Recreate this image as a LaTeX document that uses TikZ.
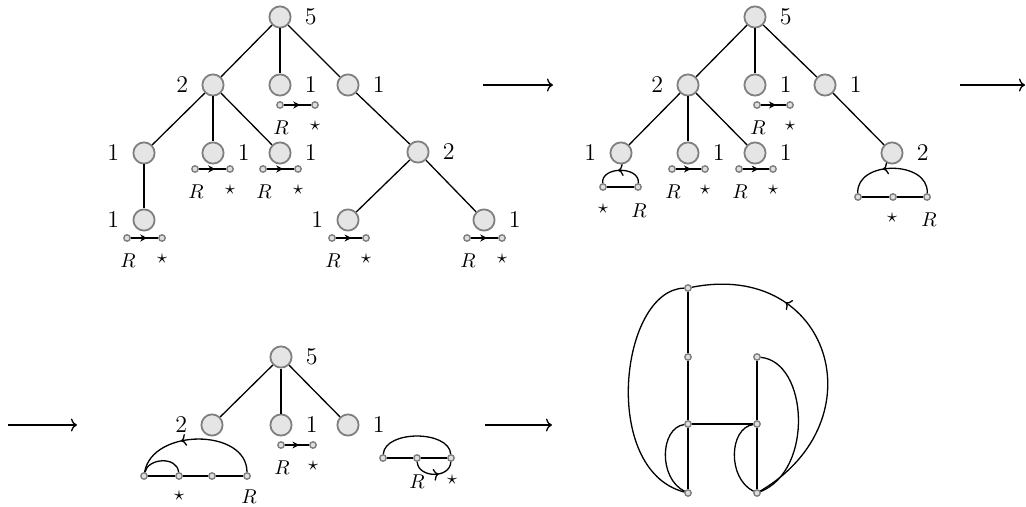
\documentclass[tikz,border=0pt]{standalone}
\usetikzlibrary{positioning,arrows.meta,calc,decorations.markings}

% R -> star pair hanging under a leaf
\newcommand{\rspair}[4]{%
  \node[dot] (#1l) at (#2,#4) {};
  \node[dot] (#1r) at (#3,#4) {};
  \draw[edge, midarr] (#1l) -- (#1r);
  \node[lab] (#1R) at ($(#1l)+(1,23)$) {$R$};
  \node[lab] (#1s) at ($(#1r)+(0,21)$) {$\star$};
}

\begin{document}
\begin{tikzpicture}[
  x=0.5pt, y=-0.5pt,
  vtx/.style={circle, draw=gray, fill=gray!20, line width=0.9pt,
    minimum size=10.6pt, inner sep=0pt},
  dot/.style={circle, draw=gray, fill=gray!25, line width=0.7pt,
    minimum size=3.2pt, inner sep=0pt},
  edge/.style={line width=0.65pt},
  lab/.style={inner sep=0pt},
  every label/.style={font=\large},
  label distance=3.1pt,
  midarr/.style={postaction={decorate}, decoration={markings,
    mark=at position #1 with {\arrow{Stealth[length=3.5pt,width=3.5pt]}}}},
  midarr/.default=0.6,
  midto/.style={postaction={decorate}, decoration={markings,
    mark=at position #1 with {\arrow{To[length=2.6pt,width=6pt]}}}},
  midto/.default=0.55,
  flow/.style={-{To[length=3pt,width=6.5pt]}, line width=0.65pt},
]
\useasboundingbox (0,0) rectangle (1026,507);

% ============================================================
% TOP LEFT: the tree
% ============================================================
\node[vtx, label=right:5] (aroot) at (280,17) {};
\node[vtx, label=left:2]  (a2)    at (213,85) {};
\node[vtx, label=right:1] (a1m)   at (280,85) {};
\node[vtx, label=right:1] (a1r)   at (348,85) {};
\node[vtx, label=left:1]  (al1)   at (144,153) {};
\node[vtx, label=right:1] (al2)   at (213,153) {};
\node[vtx, label=right:1] (al3)   at (280,153) {};
\node[vtx, label=left:1]  (al4)   at (144,220) {};
\node[vtx, label=right:2] (am2)   at (418,152) {};
\node[vtx, label=left:1]  (am3)   at (348,220) {};
\node[vtx, label=right:1] (am4)   at (484,220) {};

\draw[edge] (aroot) -- (a2);
\draw[edge] (aroot) -- (a1m);
\draw[edge] (aroot) -- (a1r);
\draw[edge] (a2) -- (al1);
\draw[edge] (a2) -- (al2);
\draw[edge] (a2) -- (al3);
\draw[edge] (al1) -- (al4);
\draw[edge] (a1r) -- (am2);
\draw[edge] (am2) -- (am3);
\draw[edge] (am2) -- (am4);

\rspair{ga1}{280}{315}{105}
\rspair{ga2}{195}{230}{169}
\rspair{ga3}{263}{298}{169}
\rspair{ga4}{127}{162}{238}
\rspair{ga5}{332}{366}{238}
\rspair{ga6}{467}{502}{238}

% ============================================================
% TOP RIGHT: after the first step
% ============================================================
\node[vtx, label=right:5] (broot) at (755,17) {};
\node[vtx, label=left:2]  (b2)    at (688,85) {};
\node[vtx, label=right:1] (b1m)   at (755,85) {};
\node[vtx, label=right:1] (b1r)   at (825,85) {};
\node[vtx, label=left:1]  (bl1)   at (621,153) {};
\node[vtx, label=right:1] (bl2)   at (688,153) {};
\node[vtx, label=right:1] (bl3)   at (755,153) {};
\node[vtx, label=right:2] (bm2)   at (892,153) {};

\draw[edge] (broot) -- (b2);
\draw[edge] (broot) -- (b1m);
\draw[edge] (broot) -- (b1r);
\draw[edge] (b2) -- (bl1);
\draw[edge] (b2) -- (bl2);
\draw[edge] (b2) -- (bl3);
\draw[edge] (b1r) -- (bm2);

\rspair{gb1}{757}{790}{105}
\rspair{gb2}{672}{705}{169}
\rspair{gb3}{739}{773}{169}

% leaf with a back arc
\node[dot] (gb4l) at (603,187) {};
\node[dot] (gb4r) at (638,187) {};
\draw[edge] (gb4l) -- (gb4r);
\draw[edge, midto] (gb4r) .. controls (640,166) and (601,166) .. (gb4l);
\node[lab] (gb4s) at (603,209) {$\star$};
\node[lab] (gb4R) at (639,211) {$R$};

% three-dot chain under the 2
\node[dot] (gb5a) at (858,197) {};
\node[dot] (gb5b) at (893,197) {};
\node[dot] (gb5c) at (927,197) {};
\draw[edge] (gb5a) -- (gb5b) -- (gb5c);
\draw[edge, midto=0.6] (gb5c) .. controls (929,160) and (856,160) .. (gb5a);
\node[lab] (gb5s) at (892,218) {$\star$};
\node[lab] (gb5R) at (929,220) {$R$};

% ============================================================
% BOTTOM LEFT: after the second step
% ============================================================
\node[vtx, label=right:5] (croot) at (281,357) {};
\node[vtx, label=left:2]  (c2)    at (212,425) {};
\node[vtx, label=right:1] (c1m)   at (281,425) {};
\node[vtx, label=right:1] (c1r)   at (348,425) {};

\draw[edge] (croot) -- (c2);
\draw[edge] (croot) -- (c1m);
\draw[edge] (croot) -- (c1r);

\rspair{gc1}{281}{313}{445}

% four-dot chain under the 2
\node[dot] (gc2a) at (144,476) {};
\node[dot] (gc2b) at (179,476) {};
\node[dot] (gc2c) at (212,476) {};
\node[dot] (gc2d) at (247,476) {};
\draw[edge] (gc2a) -- (gc2b) -- (gc2c) -- (gc2d);
\draw[edge] (gc2a) .. controls (148,458) and (177,456) .. (gc2b);
\draw[edge, midto=0.62] (gc2d) .. controls (247,428) and (152,428) .. (gc2a);
\node[lab] (gc2s) at (179,496) {$\star$};
\node[lab] (gc2R) at (249,497) {$R$};

% three-dot chain under the right 1
\node[dot] (gc3a) at (383,458) {};
\node[dot] (gc3b) at (417,458) {};
\node[dot] (gc3c) at (451,458) {};
\draw[edge] (gc3a) -- (gc3b) -- (gc3c);
\draw[edge] (gc3a) .. controls (385,430) and (449,430) .. (gc3c);
\draw[edge, midto=0.6] (gc3b) .. controls (418,478) and (450,479) .. (gc3c);
\node[lab] (gc3R) at (417,482) {$R$};
\node[lab] (gc3s) at (452,480) {$\star$};

% ============================================================
% BOTTOM RIGHT: the resulting graph
% ============================================================
\node[dot] (ga) at (688,288) {};
\node[dot] (gbb) at (688,357) {};
\node[dot] (gc) at (688,424) {};
\node[dot] (gd) at (688,493) {};
\node[dot] (ge) at (757,357) {};
\node[dot] (gf) at (757,424) {};
\node[dot] (gg) at (757,493) {};

\draw[edge] (ga) -- (gbb) -- (gc) -- (gd);
\draw[edge] (ge) -- (gf) -- (gg);
\draw[edge] (gc) -- (gf);
\draw[edge] (ga) .. controls (620,290) and (600,470) .. (gd);
\draw[edge] (gc) .. controls (660,428) and (658,478) .. (gd);
\draw[edge] (gf) .. controls (729,428) and (727,478) .. (gg);
\draw[edge] (ge) .. controls (808,362) and (814,470) .. (gg);
\draw[edge, midto=0.7] (gg) .. controls (880,420) and (830,260) .. (ga);

% ============================================================
% step arrows
% ============================================================
\coordinate (s1a) at (483,85);  \coordinate (s1b) at (553,85);
\coordinate (s2a) at (960,85);  \coordinate (s2b) at (1025,85);
\coordinate (s3a) at (8,425);   \coordinate (s3b) at (77,425);
\coordinate (s4a) at (485,425); \coordinate (s4b) at (552,425);
\draw[flow] (s1a) -- (s1b);
\draw[flow] (s2a) -- (s2b);
\draw[flow] (s3a) -- (s3b);
\draw[flow] (s4a) -- (s4b);

\end{tikzpicture}
\end{document}
